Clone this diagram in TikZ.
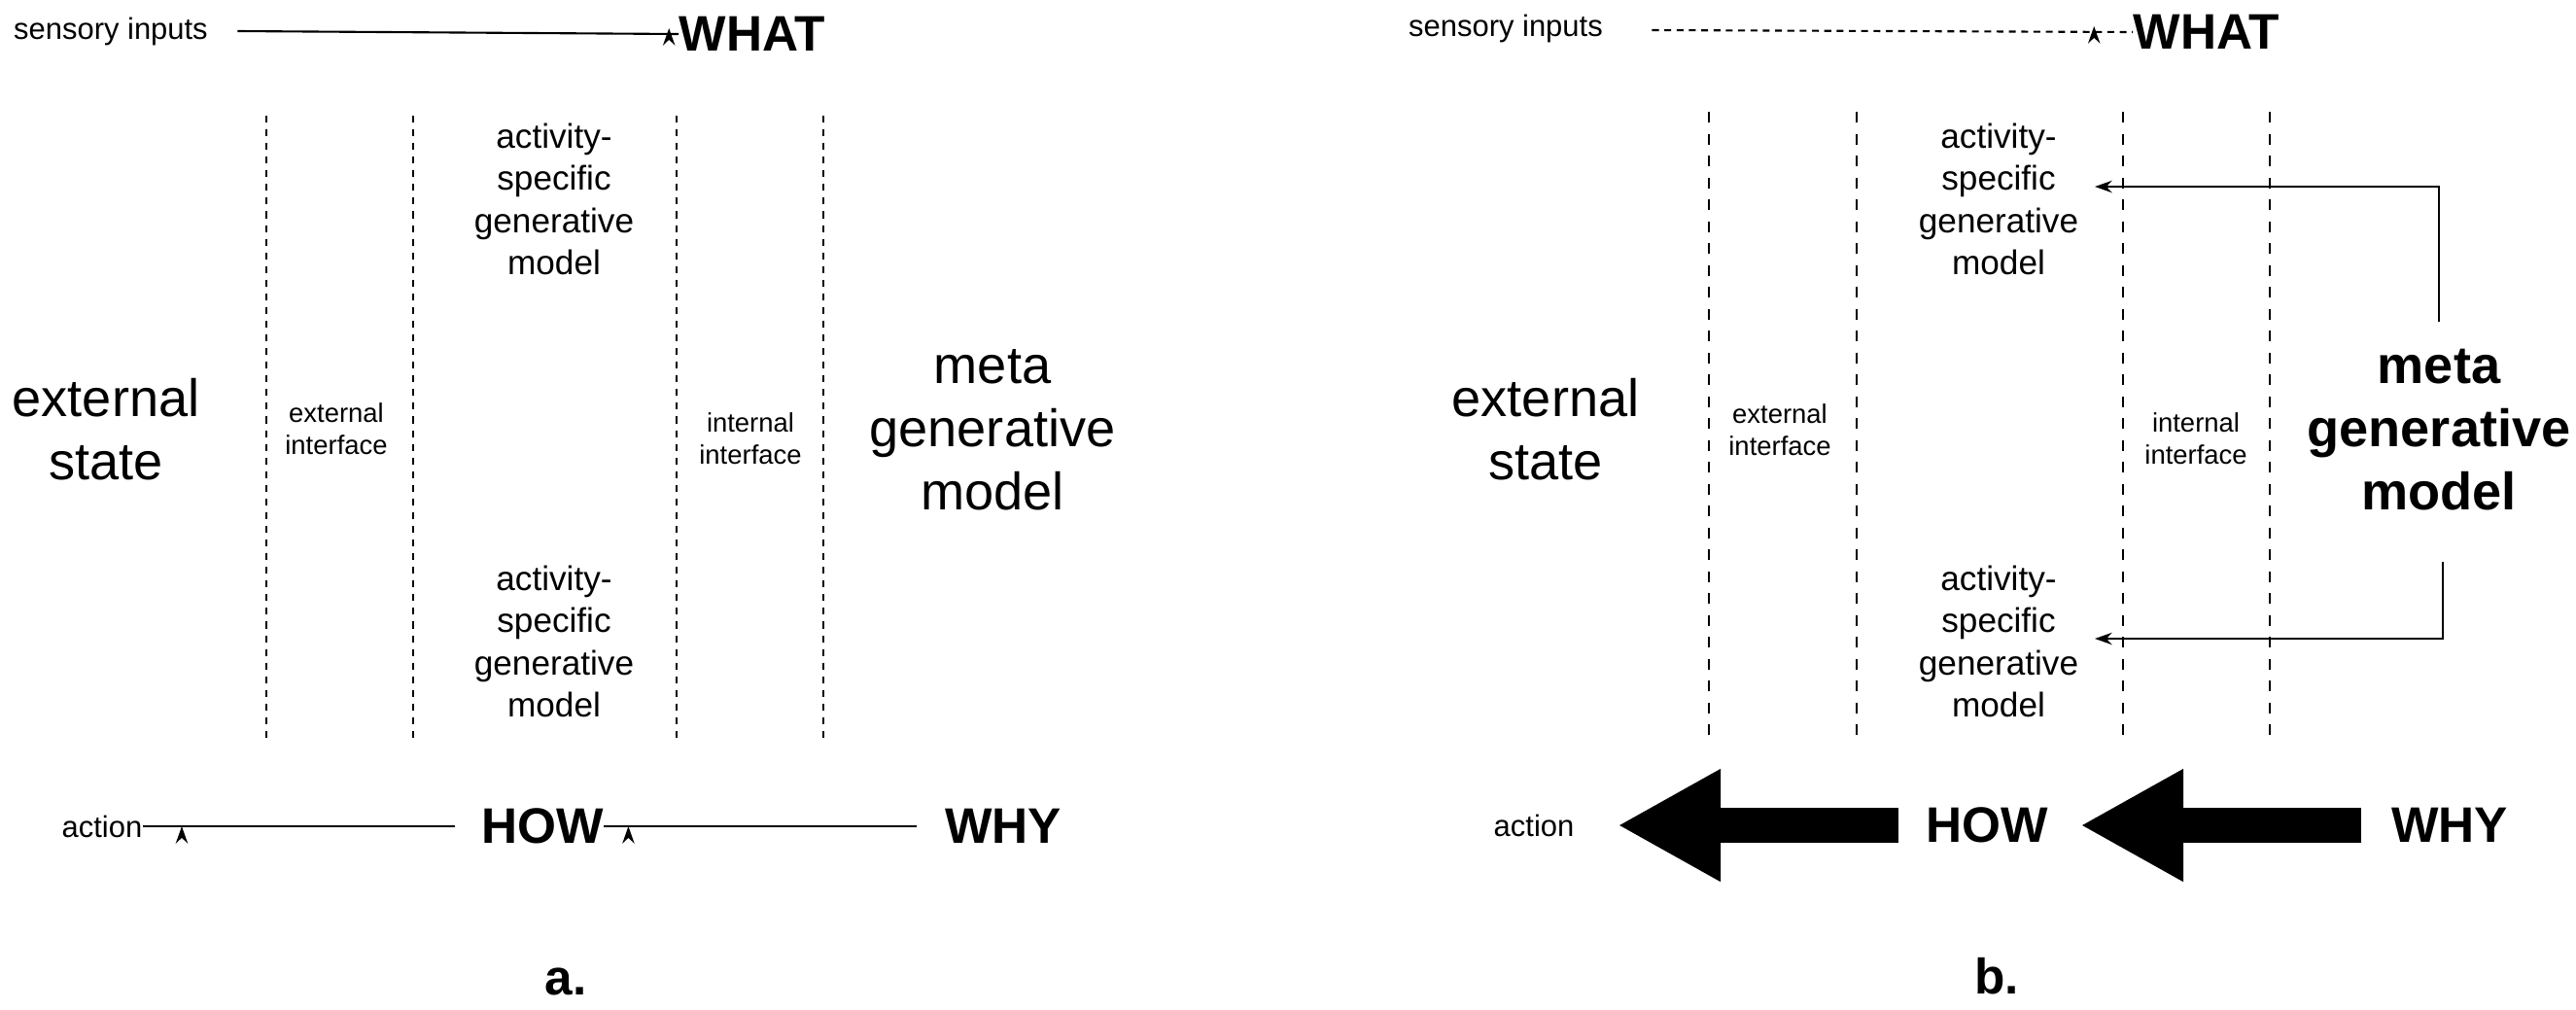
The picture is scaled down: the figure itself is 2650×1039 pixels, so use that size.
\documentclass[tikz,border=0pt]{standalone}
\usepackage{fontspec}
\setmainfont{Liberation Sans}
\usetikzlibrary{arrows.meta}
\begin{document}
\begin{tikzpicture}[x=0.01cm,y=-0.01cm,
  big/.style={align=center,inner sep=0pt,font=\fontsize{15.4}{18.5}\selectfont},
  mid/.style={align=center,inner sep=0pt,font=\fontsize{10}{12.4}\selectfont},
  sm/.style={align=center,inner sep=0pt,font=\fontsize{7.8}{9.4}\selectfont},
  lab/.style={inner sep=0pt,font=\fontsize{8.8}{10.5}\selectfont},
  hd/.style={inner sep=0pt,font=\fontsize{14.6}{17}\selectfont\bfseries},
  sep/.style={line width=0.5pt,dash pattern=on 2pt off 2pt},
  sepb/.style={line width=0.5pt,dash pattern=on 3.2pt off 3.2pt},
  thin/.style={line width=0.6pt,-{Stealth[length=5pt,width=3.5pt]}},
  fat/.style={line width=0.35cm,-{Triangle[length=1.06cm 0,width=1.08cm 0]}}]
\useasboundingbox (0,0) rectangle (2650,1039);
% ---------- panel a ----------
\node[lab] (siA) at (114,32) {sensory inputs};
\node[hd] (whatA) at (774,35) {WHAT};
\draw[thin] (siA.east) ++(30,0) coordinate (sa0) -- (whatA.west) ++(-10,-6) coordinate (sa1);
\foreach \x/\n in {274/a1,425/a2,696/a3,847/a4}{
  \coordinate (\n t) at (\x,119); \coordinate (\n b) at (\x,760);
  \draw[sep] (\n t) -- (\n b);}
\node[mid] (actA1) at (570,205) {activity-\\specific\\generative\\model};
\node[mid] (actA2) at (570,660) {activity-\\specific\\generative\\model};
\node[big] (extA) at (109,442) {external\\state};
\node[sm] (eiA) at (346,441) {external\\interface};
\node[sm] (iiA) at (772,451) {internal\\interface};
\node[big] (metaA) at (1021,442) {meta\\generative\\model};
\node[hd] (howA) at (558,850) {HOW};
\node[hd] (whyA) at (1032,850) {WHY};
\node[lab] (actionA) at (105,850) {action};
\draw[thin] (howA.west) ++(-27,0) coordinate (h0) -- (actionA.east) ++(40,0) coordinate (h1);
\draw[thin] (whyA.west) ++(-28,0) coordinate (w0) -- (howA.east) ++(25,0) coordinate (w1);
\node[hd] (la) at (582,1010) {a.};
% ---------- panel b ----------
\node[lab] (siB) at (1549,29) {sensory inputs};
\node[hd] (whatB) at (2270,33) {WHAT};
\draw[line width=0.6pt,dash pattern=on 2pt off 1.6pt,-{Stealth[length=5pt,width=3.5pt]}]
  (siB.east) ++(50,2) coordinate (sb0) -- (whatB.west) ++(-40,-6) coordinate (sb1);
\foreach \x/\n in {1758/b1,1910/b2,2184/b3,2335/b4}{
  \coordinate (\n t) at (\x,115); \coordinate (\n b) at (\x,760);
  \draw[sepb] (\n t) -- (\n b);}
\node[mid] (actB1) at (2056,205) {activity-\\specific\\generative\\model};
\node[mid] (actB2) at (2056,660) {activity-\\specific\\generative\\model};
\node[big] (extB) at (1590,442) {external\\state};
\node[sm] (eiB) at (1831,442) {external\\interface};
\node[sm] (iiB) at (2259,451) {internal\\interface};
\node[big,font=\fontsize{15.4}{18.5}\selectfont\bfseries] (metaB) at (2509,442) {meta\\generative\\model};
\coordinate (mt) at (2509,331);
\coordinate (mb) at (2513,578);
\coordinate (at1) at (2155,192);
\coordinate (at2) at (2155,657);
\draw[thin] (mt) |- (at1);
\draw[thin] (mb) |- (at2);
\node[hd] (howB) at (2044,849) {HOW};
\node[hd] (whyB) at (2520,849) {WHY};
\node[lab] (actionB) at (1578,849) {action};
\coordinate (f1s) at (1953,849); \coordinate (f1e) at (1664,849);
\coordinate (f2s) at (2429,849); \coordinate (f2e) at (2140,849);
\draw[fat] (f1s) -- (f1e);
\draw[fat] (f2s) -- (f2e);
\node[hd] (lb) at (2054,1004) {b.};
\end{tikzpicture}
\end{document}
